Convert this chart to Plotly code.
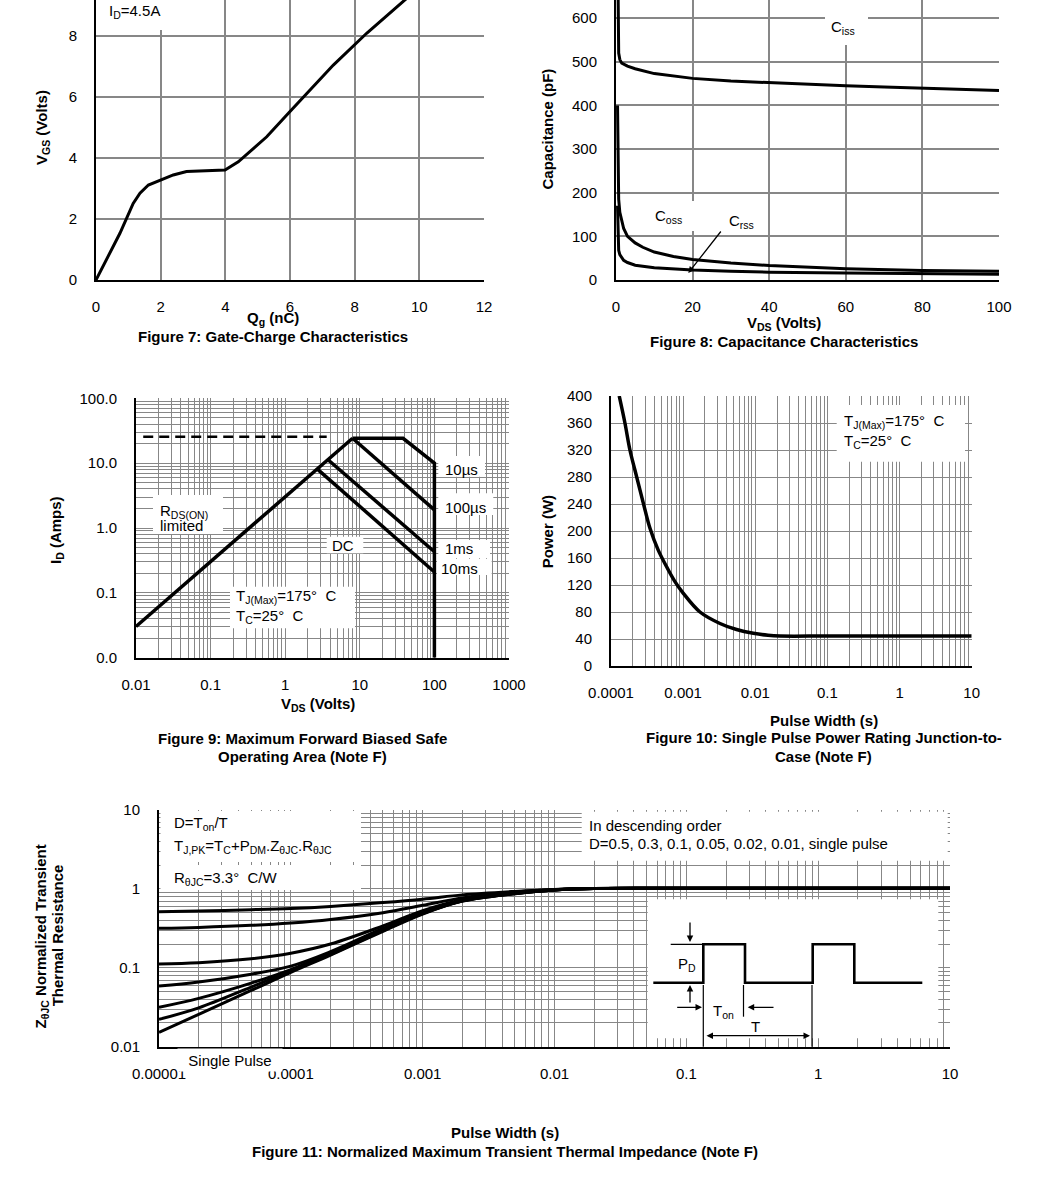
import plotly.graph_objects as go

W, H = 1039, 1204
FONT = "Liberation Sans, Arial, Helvetica, sans-serif"
GRID = "#878787"


def px(x):
    return x / W


def py(y):
    return 1 - y / H


# ---------------- data ----------------
# Figure 7: gate charge
qg_nc = [0, 0.43, 0.74, 1.15, 1.36, 1.62, 1.98, 2.39, 2.8, 3.42, 3.99, 4.4, 4.87, 5.28, 5.95, 7.34, 8.37, 9.56, 9.8]
vgs_v = [0, 0.87, 1.53, 2.51, 2.84, 3.11, 3.27, 3.44, 3.55, 3.58, 3.6, 3.87, 4.31, 4.69, 5.46, 7.04, 8.08, 9.17, 9.4]

# Figure 8: capacitance
ciss_vds = [0.5, 0.7, 1.0, 1.5, 3, 5, 10, 20, 30, 40, 50, 60, 70, 80, 90, 100]
ciss_pf = [700, 520, 505, 497, 490, 484, 473, 462, 456, 452, 448, 445, 442, 439, 437, 434]
coss_vds = [0.4, 0.5, 0.7, 1, 2, 3, 5, 7, 10, 15, 20, 30, 40, 60, 80, 100]
coss_pf = [400, 250, 185, 155, 118, 100, 85, 75, 64, 54, 47, 39, 33, 26, 22, 20]
crss_vds = [0.4, 0.5, 0.7, 1, 2, 3, 5, 10, 20, 30, 40, 60, 80, 100]
crss_pf = [170, 90, 68, 58, 45, 40, 34, 28, 23, 20, 18, 16, 14, 13]

# Figure 9: safe operating area
soa_rds_v = [0.01, 8.0]
soa_rds_i = [0.0303, 24.2]
soa_10us_v = [8.0, 38.0, 100.0, 100.0]
soa_10us_i = [24.2, 24.2, 10.0, 0.01]
soa_100us_v = [8.0, 100.0]
soa_100us_i = [24.2, 1.9]
soa_1ms_v = [3.75, 100.0]
soa_1ms_i = [11.3, 0.43]
soa_10ms_v = [2.7, 100.0]
soa_10ms_i = [8.1, 0.21]
soa_pkg_v = [0.0125, 3.6]
soa_pkg_i = [25.5, 25.5]

# Figure 10: single pulse power
pw_t = [1.30e-4, 1.56e-4, 1.83e-4, 2.15e-4, 2.81e-4, 3.47e-4, 4.5e-4, 5.9e-4, 7.7e-4, 1.0e-3,
        1.71e-3, 3.24e-3, 5.5e-3, 9.4e-3, 1.5e-2, 2.2e-2, 0.1, 1, 10]
pw_p = [400, 360, 320, 290, 241, 204, 172, 147, 125, 108, 80, 63, 54, 48.4, 45.5, 44.4, 44.4, 44.4, 44.4]

# Figure 11: normalized transient thermal impedance
zth_t = [1e-5, 2e-5, 5e-5, 1e-4, 2e-4, 5e-4, 1e-3, 2e-3, 5e-3, 1e-2, 2e-2, 5e-2, 0.1, 1, 10]
zth_d050 = [0.514, 0.525, 0.545, 0.565, 0.6, 0.67, 0.74, 0.84, 0.93, 0.985, 1.01, 1.02, 1.02, 1.02, 1.02]
zth_d030 = [0.316, 0.325, 0.345, 0.37, 0.41, 0.5, 0.62, 0.77, 0.91, 0.98, 1.01, 1.02, 1.02, 1.02, 1.02]
zth_d010 = [0.112, 0.116, 0.13, 0.153, 0.2, 0.34, 0.53, 0.73, 0.89, 0.975, 1.01, 1.02, 1.02, 1.02, 1.02]
zth_d005 = [0.0587, 0.066, 0.083, 0.105, 0.16, 0.315, 0.5, 0.71, 0.88, 0.97, 1.01, 1.02, 1.02, 1.02, 1.02]
zth_d002 = [0.0316, 0.041, 0.064, 0.095, 0.152, 0.30, 0.49, 0.705, 0.875, 0.97, 1.01, 1.02, 1.02, 1.02, 1.02]
zth_d001 = [0.0222, 0.031, 0.057, 0.091, 0.148, 0.295, 0.485, 0.70, 0.87, 0.97, 1.01, 1.02, 1.02, 1.02, 1.02]
zth_single = [0.0152, 0.0257, 0.0516, 0.0876, 0.145, 0.29, 0.48, 0.70, 0.87, 0.97, 1.01, 1.02, 1.02, 1.02, 1.02]

# tick labels
f9_x_vals = [0.01, 0.1, 1, 10, 100, 1000]
f9_x_text = ["0.01", "0.1", "1", "10", "100", "1000"]
f9_y_vals = [0.01, 0.1, 1, 10, 100]
f9_y_text = ["0.0", "0.1", "1.0", "10.0", "100.0"]
f10_x_vals = [1e-4, 1e-3, 1e-2, 0.1, 1, 10]
f10_x_text = ["0.0001", "0.001", "0.01", "0.1", "1", "10"]
f11_x_vals = [1e-5, 1e-4, 1e-3, 1e-2, 0.1, 1, 10]
f11_x_text = ["0.00001", "0.0001", "0.001", "0.01", "0.1", "1", "10"]
f11_y_vals = [0.01, 0.1, 1, 10]
f11_y_text = ["0.01", "0.1", "1", "10"]


def minors(e0, e1):
    return [m * 10.0 ** e for e in range(e0, e1) for m in range(2, 10)]


fig = go.Figure()


def line(x, y, ax, width=3, dash=None, shape="linear"):
    fig.add_trace(go.Scatter(x=x, y=y, xaxis="x" + ax, yaxis="y" + ax, mode="lines",
                             line=dict(color="black", width=width, dash=dash, shape=shape),
                             hoverinfo="skip", showlegend=False))


line(qg_nc, vgs_v, "")
line(ciss_vds, ciss_pf, "2")
line(coss_vds, coss_pf, "2")
line(crss_vds, crss_pf, "2")
line(soa_rds_v, soa_rds_i, "3", 3.5)
line(soa_10us_v, soa_10us_i, "3", 3.5)
line(soa_100us_v, soa_100us_i, "3", 3.5)
line(soa_1ms_v, soa_1ms_i, "3", 3.5)
line(soa_10ms_v, soa_10ms_i, "3", 3.5)
line(soa_pkg_v, soa_pkg_i, "3", 2.5, dash="10px,6px")
line(pw_t, pw_p, "4", 3.5, shape="spline")
for z in [zth_d050, zth_d030, zth_d010, zth_d005, zth_d002, zth_d001, zth_single]:
    line(zth_t, z, "5", 3, shape="spline")

TF = dict(family=FONT, size=15, color="black")
common = dict(showline=True, linecolor="black", linewidth=2, ticks="", zeroline=False,
              showgrid=True, gridcolor=GRID, tickfont=TF, fixedrange=True, automargin=False)
XS, YS = 12, 14


def minor(vals):
    return dict(tickvals=vals, showgrid=True, gridcolor=GRID, gridwidth=1.3, ticks="")


fig.update_layout(
    width=W, height=H, margin=dict(l=0, r=0, t=0, b=0, pad=0, autoexpand=False),
    paper_bgcolor="white", plot_bgcolor="white", showlegend=False,
    xaxis=dict(common, domain=[px(96), px(484)], range=[0, 12], tickvals=list(range(0, 13, 2)),
               anchor="y", gridwidth=1.6, ticklabelstandoff=XS),
    yaxis=dict(common, domain=[py(280), 1], range=[0, 9.17], tickvals=[0, 2, 4, 6, 8],
               anchor="x", gridwidth=1.6, ticklabelstandoff=YS),
    xaxis2=dict(common, domain=[px(616), px(999)], range=[0, 100], tickvals=list(range(0, 101, 20)),
                anchor="y2", gridwidth=1.6, ticklabelstandoff=XS),
    yaxis2=dict(common, domain=[py(280), 1], range=[0, 641.6], tickvals=list(range(0, 601, 100)),
                anchor="x2", gridwidth=1.6, ticklabelstandoff=YS),
    xaxis3=dict(common, type="log", domain=[px(136), px(509)], range=[-2, 3], tickvals=f9_x_vals,
                ticktext=f9_x_text, anchor="y3", gridwidth=1.4, minor=minor(minors(-2, 3)),
                ticklabelstandoff=XS),
    yaxis3=dict(common, type="log", domain=[py(657.7), py(398.3)], range=[-2, 2], tickvals=f9_y_vals,
                ticktext=f9_y_text, anchor="x3", gridwidth=1.4, minor=minor(minors(-2, 2)),
                ticklabelstandoff=YS),
    xaxis4=dict(common, type="log", domain=[px(611), px(971.7)], range=[-4, 1], tickvals=f10_x_vals,
                ticktext=f10_x_text, anchor="y4", gridwidth=1.4, minor=minor(minors(-4, 1)),
                ticklabelstandoff=XS),
    yaxis4=dict(common, domain=[py(666), py(396)], range=[0, 400], tickvals=list(range(0, 401, 40)),
                anchor="x4", gridwidth=1.4, ticklabelstandoff=YS),
    xaxis5=dict(common, type="log", domain=[px(159), px(950)], range=[-5, 1], tickvals=f11_x_vals,
                ticktext=f11_x_text, anchor="y5", gridwidth=1.4, minor=minor(minors(-5, 1)),
                ticklabelstandoff=XS),
    yaxis5=dict(common, type="log", domain=[py(1046.7), py(810)], range=[-2, 1], tickvals=f11_y_vals,
                ticktext=f11_y_text, anchor="x5", gridwidth=1.4, minor=minor(minors(-2, 1)),
                ticklabelstandoff=YS),
)

# ---------------- white label boxes ----------------
boxes = [
    (97.5, 0, 172, 30),            # fig7 conditions
    (825, 0, 868, 45),             # Ciss
    (643, 201, 700, 231),          # Coss
    (153, 495, 223, 534),          # RDS(ON) limited
    (326.7, 536.7, 363.3, 553.3),  # DC
    (230, 586.7, 355, 628.3),      # TJ box fig9
    (438.3, 456, 485, 476.7),      # 10us
    (438.3, 493.3, 493.3, 515),    # 100us
    (438.3, 540, 490, 558.3),      # 1ms
    (437, 559, 491.7, 575),        # 10ms
    (836.7, 405, 965, 461.7),      # fig10 box
    (160.5, 811, 361, 862),        # fig11 box A
    (160.5, 865, 361, 890),        # fig11 box B
    (581.7, 811.7, 947.7, 860.7),  # fig11 box C
    (647.7, 899.3, 938.3, 1038.3), # inset
]
shapes = []
for x0, y0, x1, y1 in boxes:
    shapes.append(dict(type="rect", xref="paper", yref="paper", x0=px(x0), x1=px(x1),
                       y0=py(y1), y1=py(y0), fillcolor="white", line=dict(width=0), layer="above"))

# inset pulse diagram (schematic)
pulse = [(653.3, 982.7), (703.3, 982.7), (703.3, 944.3), (745, 944.3), (745, 982.7), (812.7, 982.7),
         (812.7, 944.3), (854.3, 944.3), (854.3, 982.7), (922.3, 982.7)]
path = "M " + " L ".join(f"{px(a):.5f},{py(b):.5f}" for a, b in pulse)
shapes.append(dict(type="path", xref="paper", yref="paper", path=path,
                   line=dict(color="black", width=2.6), layer="above"))
thin = [((670.7, 944.3), (703.3, 944.3)), ((703.3, 985), (703.3, 1046.7)),
        ((743.5, 985), (743.5, 1016.7)), ((812, 985), (812, 1046.7))]
for (a, b), (c, d) in thin:
    shapes.append(dict(type="line", xref="paper", yref="paper", x0=px(a), y0=py(b), x1=px(c), y1=py(d),
                       line=dict(color="black", width=1.2), layer="above"))
fig.update_layout(shapes=shapes)

# ---------------- text ----------------
ann = []


def txt(x, y, text, xanchor="left", bold=False, angle=0, size=15):
    if bold:
        text = "<b>" + text + "</b>"
    ann.append(dict(x=px(x), y=py(y), xref="paper", yref="paper", text=text, showarrow=False,
                    xanchor=xanchor, yanchor="middle", textangle=angle,
                    font=dict(family=FONT, size=size, color="black")))


def arrow(tx, ty, tailx, taily, width=1.3, side="end", head=2, size=1.0):
    ann.append(dict(x=px(tx), y=py(ty), xref="paper", yref="paper", text="", showarrow=True,
                    ax=tailx - tx, ay=taily - ty, arrowhead=head, arrowsize=size, arrowwidth=width,
                    arrowcolor="black", arrowside=side, startarrowhead=head, startarrowsize=size))


# Figure 7
txt(106.7, 12, "I<sub>D</sub>=4.5A")
txt(42.5, 127.5, "V<sub>GS</sub> (Volts)", "center", True, -90)
txt(272.7, 318, "Q<sub>g</sub> (nC)", "center", True)
txt(272.5, 336.7, "Figure 7: Gate-Charge Characteristics", "center", True)

# Figure 8
txt(843, 27, "C<sub>iss</sub>", "center")
txt(653.3, 216, "C<sub>oss</sub>")
txt(727.3, 221, "C<sub>rss</sub>")
arrow(688.3, 273, 722, 230)
txt(547.5, 129, "Capacitance (pF)", "center", True, -90)
txt(783.8, 323, "V<sub>DS</sub> (Volts)", "center", True)
txt(783.8, 341.7, "Figure 8: Capacitance Characteristics", "center", True)

# Figure 9
txt(158.3, 511.7, "R<sub>DS(ON)</sub>")
txt(158.3, 525.7, "limited")
txt(343.3, 545, "DC", "center")
txt(234, 596.7, "T<sub>J(Max)</sub>=175°  C")
txt(234, 616.7, "T<sub>C</sub>=25°  C")
txt(442.7, 469.3, "10µs")
txt(442.7, 507.7, "100µs")
txt(442.7, 548.3, "1ms")
txt(439.3, 568.5, "10ms")
txt(56, 530, "I<sub>D</sub> (Amps)", "center", True, -90)
txt(318.3, 704, "V<sub>DS</sub> (Volts)", "center", True)
txt(302.5, 738.3, "Figure 9: Maximum Forward Biased Safe", "center", True)
txt(302.5, 756, "Operating Area (Note F)", "center", True)

# Figure 10
txt(841.7, 421.7, "T<sub>J(Max)</sub>=175°  C")
txt(841.7, 441.7, "T<sub>C</sub>=25°  C")
txt(547.3, 532, "Power (W)", "center", True, -90)
txt(824, 720, "Pulse Width (s)", "center", True)
txt(824.3, 737.5, "Figure 10: Single Pulse Power Rating Junction-to-", "center", True)
txt(823.7, 756, "Case (Note F)", "center", True)

# Figure 11
txt(172.3, 823.3, "D=T<sub>on</sub>/T")
txt(172.3, 846.7, "T<sub>J,PK</sub>=T<sub>C</sub>+P<sub>DM</sub>.Z<sub>θJC</sub>.R<sub>θJC</sub>")
txt(172.3, 878.3, "R<sub>θJC</sub>=3.3°  C/W")
txt(586.7, 825, "In descending order")
txt(586.7, 843.3, "D=0.5, 0.3, 0.1, 0.05, 0.02, 0.01, single pulse")
txt(41.7, 936.7, "Z<sub>θJC</sub> Normalized Transient", "center", True, -90)
txt(58.3, 935, "Thermal Resistance", "center", True, -90)
txt(504.7, 1132.5, "Pulse Width (s)", "center", True)
txt(504.7, 1151, "Figure 11: Normalized Maximum Transient Thermal Impedance (Note F)", "center", True)
ann.append(dict(x=px(230), y=py(1060), xref="paper", yref="paper", text="Single Pulse", showarrow=False,
                xanchor="center", yanchor="middle", width=104, height=22, bgcolor="white", borderpad=0,
                font=dict(family=FONT, size=15, color="black")))

# inset labels and arrows
txt(686.7, 965, "P<sub>D</sub>", "center")
txt(723.7, 1011.7, "T<sub>on</sub>", "center")
txt(755, 1026.7, "T", "center")
arrow(690, 942, 690, 921)
arrow(690, 985, 690, 1004)
arrow(702, 1007.3, 675.7, 1007.3)
arrow(747.7, 1007.3, 775, 1007.3)
arrow(810, 1035.7, 705, 1035.7, side="end+start")

fig.update_layout(annotations=ann)
fig.write_html("out.html", config={"displayModeBar": False},
               post_script="document.body.style.margin='0px';document.body.style.overflow='hidden';")
